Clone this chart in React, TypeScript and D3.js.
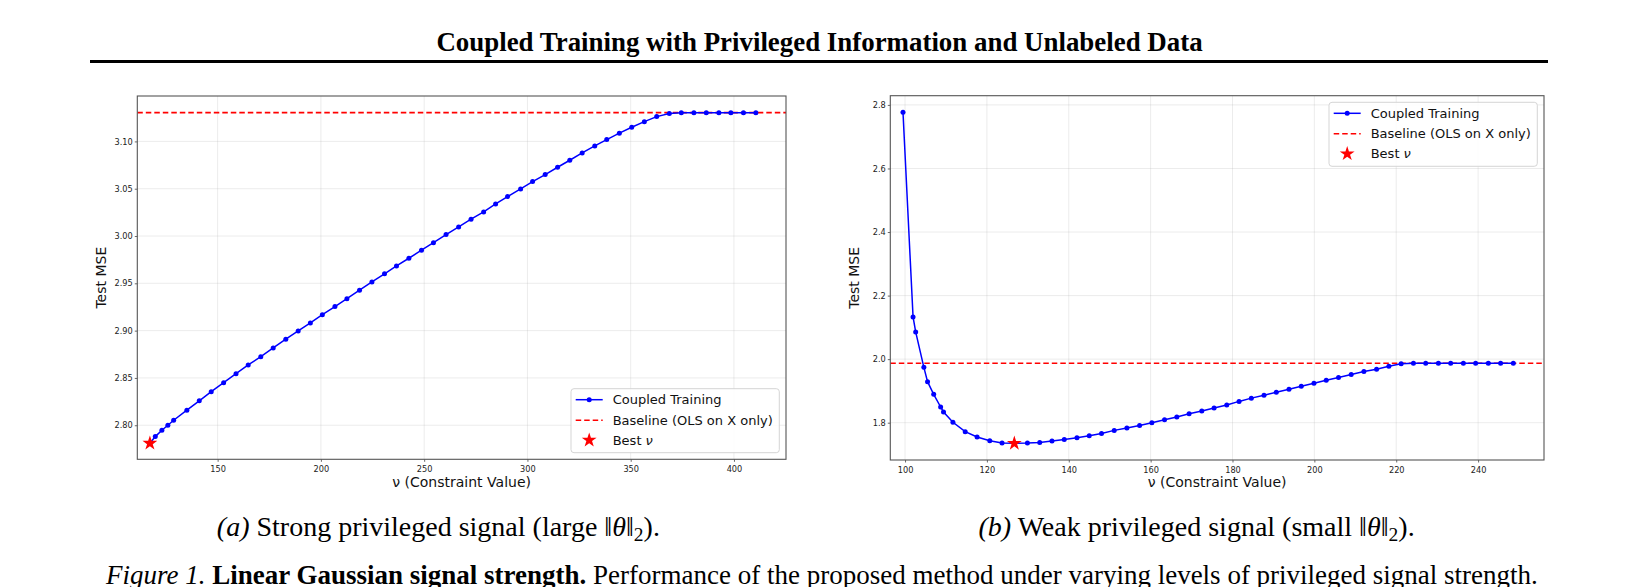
import React, { useEffect, useRef } from "react";
import * as d3 from "d3";

// Strong privileged signal (panel a)
const leftNu = [
  117.2, 119.8, 123.0, 125.9, 128.7, 135.1, 141.1, 146.9, 152.9, 158.9, 164.8, 170.9, 176.9, 183.0,
  189.0, 194.9, 200.7, 206.8, 212.6, 218.7, 224.7, 230.8, 236.6, 242.6, 248.7, 254.5, 260.6, 266.7,
  272.7, 278.8, 284.6, 290.4, 296.7, 302.5, 308.6, 314.6, 320.5, 326.5, 332.6, 338.4, 344.5, 350.5,
  356.6, 362.6, 368.7, 374.5, 380.6, 386.6, 392.7, 398.5, 404.6, 410.6,
];
const leftMse = [
  2.781, 2.788, 2.7947, 2.8, 2.8053, 2.8159, 2.8258, 2.8355, 2.845, 2.8545, 2.8637, 2.8725, 2.8817, 2.8909,
  2.8997, 2.9081, 2.9169, 2.9254, 2.9338, 2.9427, 2.9515, 2.96, 2.9684, 2.9765, 2.985, 2.993, 3.0015, 3.0096,
  3.0178, 3.0255, 3.0339, 3.0417, 3.0498, 3.0575, 3.0649, 3.0727, 3.0801, 3.0878, 3.0952, 3.1019, 3.1087, 3.115,
  3.1209, 3.1262, 3.1294, 3.1304, 3.1304, 3.1304, 3.1304, 3.1304, 3.1304, 3.1304,
];
const leftBaseline = 3.1304;
const leftBest = { nu: 117.2, mse: 2.781 };
const leftXTicks = [150, 200, 250, 300, 350, 400];
const leftYTicks = [2.8, 2.85, 2.9, 2.95, 3.0, 3.05, 3.1];

// Weak privileged signal (panel b)
const rightNu = [
  99.5, 101.96, 102.6, 104.6, 105.5, 107.0, 108.7, 109.4, 111.7, 114.7, 117.6, 120.7, 123.7, 126.7,
  129.9, 132.9, 135.9, 138.9, 142.0, 145.0, 148.0, 151.1, 154.2, 157.3, 160.3, 163.4, 166.4, 169.4,
  172.5, 175.5, 178.6, 181.6, 184.6, 187.7, 190.7, 193.8, 196.8, 199.9, 202.9, 205.9, 209.0, 212.1,
  215.2, 218.2, 221.2, 224.2, 227.2, 230.3, 233.3, 236.4, 239.4, 242.5, 245.5, 248.6,
];
const rightMse = [
  2.777, 2.1327, 2.0855, 1.9742, 1.929, 1.8894, 1.8494, 1.8337, 1.8013, 1.7717, 1.755, 1.7434, 1.7361, 1.735,
  1.7361, 1.738, 1.7422, 1.7474, 1.7527, 1.759, 1.7663, 1.7758, 1.7831, 1.7915, 1.8, 1.8094, 1.8178, 1.8283,
  1.8366, 1.8461, 1.8555, 1.867, 1.8773, 1.8866, 1.896, 1.9054, 1.9149, 1.9243, 1.9338, 1.9422, 1.9516, 1.961,
  1.9684, 1.9778, 1.9852, 1.987, 1.987, 1.987, 1.987, 1.987, 1.987, 1.987, 1.987, 1.987,
];
const rightBaseline = 1.987;
const rightBest = { nu: 126.7, mse: 1.735 };
const rightXTicks = [100, 120, 140, 160, 180, 200, 220, 240];
const rightYTicks = [1.8, 2.0, 2.2, 2.4, 2.6, 2.8];

const legendLabels = ["Coupled Training", "Baseline (OLS on X only)", "Best "];

const PLOT_FONT = "DejaVu Sans, sans-serif";
const SERIF = "Liberation Serif, Times New Roman, serif";

interface PanelProps {
  nu: number[];
  mse: number[];
  baseline: number;
  best: { nu: number; mse: number };
  xDomain: [number, number];
  yDomain: [number, number];
  xTicks: number[];
  yTicks: number[];
  yFormat: string;
  box: { x0: number; x1: number; y0: number; y1: number };
  legendPos: "lower right" | "upper right";
}

const Panel: React.FC<PanelProps> = (p) => {
  const gRef = useRef<SVGGElement | null>(null);

  useEffect(() => {
    if (!gRef.current) return;
    const g = d3.select(gRef.current);
    g.selectAll("*").remove();

    const { x0, x1, y0, y1 } = p.box;
    const x = d3.scaleLinear().domain(p.xDomain).range([x0, x1]);
    const y = d3.scaleLinear().domain(p.yDomain).range([y1, y0]);

    // background
    g.append("rect").attr("x", x0).attr("y", y0).attr("width", x1 - x0).attr("height", y1 - y0).attr("fill", "#fff");

    // grid
    const grid = g.append("g").attr("stroke", "#b0b0b0").attr("stroke-opacity", 0.3).attr("stroke-width", 0.8);
    p.xTicks.forEach((t) => {
      grid.append("line").attr("x1", x(t)).attr("x2", x(t)).attr("y1", y0).attr("y2", y1);
    });
    p.yTicks.forEach((t) => {
      grid.append("line").attr("x1", x0).attr("x2", x1).attr("y1", y(t)).attr("y2", y(t));
    });

    // axes
    const xAxis = g
      .append("g")
      .attr("transform", `translate(0, ${y1})`)
      .call(d3.axisBottom(x).tickValues(p.xTicks).tickFormat(d3.format("d")).tickSize(2.5).tickPadding(4.2));
    const yAxis = g
      .append("g")
      .attr("transform", `translate(${x0}, 0)`)
      .call(d3.axisLeft(y).tickValues(p.yTicks).tickFormat(d3.format(p.yFormat)).tickSize(2.5).tickPadding(2.1));
    [xAxis, yAxis].forEach((a) => {
      a.select(".domain").remove();
      a.attr("font-family", PLOT_FONT).attr("font-size", 8.2);
      a.selectAll("line").attr("stroke", "#444").attr("stroke-width", 0.8);
      a.selectAll("text").attr("fill", "#222");
    });

    const clipId = `clip-${Math.round(x0)}`;
    g.append("clipPath").attr("id", clipId).append("rect").attr("x", x0).attr("y", y0).attr("width", x1 - x0).attr("height", y1 - y0);
    const plot = g.append("g").attr("clip-path", `url(#${clipId})`);

    // baseline
    plot
      .append("line")
      .attr("x1", x0)
      .attr("x2", x1)
      .attr("y1", y(p.baseline))
      .attr("y2", y(p.baseline))
      .attr("stroke", "#ff0000")
      .attr("stroke-width", 1.6)
      .attr("stroke-dasharray", "5.5,3");

    // series
    const pts = p.nu.map((n, i) => [n, p.mse[i]] as [number, number]);
    const line = d3.line<[number, number]>().x((d) => x(d[0])).y((d) => y(d[1]));
    plot.append("path").attr("d", line(pts)).attr("fill", "none").attr("stroke", "#0000ff").attr("stroke-width", 1.5);
    plot
      .selectAll("circle")
      .data(pts)
      .enter()
      .append("circle")
      .attr("cx", (d) => x(d[0]))
      .attr("cy", (d) => y(d[1]))
      .attr("r", 2.5)
      .attr("fill", "#0000ff");

    const star = d3.symbol().type(d3.symbolStar).size(68);
    plot
      .append("path")
      .attr("d", star())
      .attr("transform", `translate(${x(p.best.nu)}, ${y(p.best.mse)})`)
      .attr("fill", "#ff0000");

    // spines
    g.append("rect")
      .attr("x", x0)
      .attr("y", y0)
      .attr("width", x1 - x0)
      .attr("height", y1 - y0)
      .attr("fill", "none")
      .attr("stroke", "#555")
      .attr("stroke-width", 1.1);

    // legend
    const lw = 208.3;
    const lh = 64;
    const lx = x1 - 6.7 - lw;
    const ly = p.legendPos === "lower right" ? y1 - 6.6 - lh : y0 + 6.6;
    const leg = g.append("g").attr("transform", `translate(${lx}, ${ly})`);
    leg
      .append("rect")
      .attr("width", lw)
      .attr("height", lh)
      .attr("rx", 3)
      .attr("fill", "#fff")
      .attr("fill-opacity", 0.85)
      .attr("stroke", "#d0d0d0")
      .attr("stroke-width", 0.9);
    const rows = [11, 31.5, 51.5];
    leg.append("line").attr("x1", 4.7).attr("x2", 31.7).attr("y1", rows[0]).attr("y2", rows[0]).attr("stroke", "#0000ff").attr("stroke-width", 1.5);
    leg.append("circle").attr("cx", 18.2).attr("cy", rows[0]).attr("r", 2.5).attr("fill", "#0000ff");
    leg
      .append("line")
      .attr("x1", 4.7)
      .attr("x2", 31.7)
      .attr("y1", rows[1])
      .attr("y2", rows[1])
      .attr("stroke", "#ff0000")
      .attr("stroke-width", 1.6)
      .attr("stroke-dasharray", "5.5,3");
    leg.append("path").attr("d", star()).attr("transform", `translate(18.2, ${rows[2]})`).attr("fill", "#ff0000");
    legendLabels.forEach((lab, i) => {
      const t = leg
        .append("text")
        .attr("x", 41.7)
        .attr("y", rows[i])
        .attr("dy", "0.36em")
        .attr("font-family", PLOT_FONT)
        .attr("font-size", 13)
        .attr("fill", "#111")
        .text(lab);
      if (i === 2) t.append("tspan").attr("font-style", "italic").text("ν");
    });

    // axis labels
    g.append("text")
      .attr("x", (x0 + x1) / 2)
      .attr("y", 487)
      .attr("text-anchor", "middle")
      .attr("font-family", PLOT_FONT)
      .attr("font-size", 14)
      .attr("fill", "#111")
      .text("ν (Constraint Value)");
    g.append("text")
      .attr("transform", `translate(${x0 - 31}, ${(y0 + y1) / 2}) rotate(-90)`)
      .attr("text-anchor", "middle")
      .attr("font-family", PLOT_FONT)
      .attr("font-size", 14)
      .attr("fill", "#111")
      .text("Test MSE");
  }, [p]);

  return <g ref={gRef} />;
};

const App: React.FC = () => {
  return (
    <svg
      width={1639}
      height={587}
      style={{ position: "absolute", left: 0, top: 0, background: "#fff" }}
    >
      <rect width={1639} height={587} fill="#fff" />
      <text x={819.5} y={51} textAnchor="middle" fontFamily={SERIF} fontWeight="bold" fontSize={26.9}>
        Coupled Training with Privileged Information and Unlabeled Data
      </text>
      <line x1={90} x2={1548} y1={61.5} y2={61.5} stroke="#000" strokeWidth={3} />

      <Panel
        nu={leftNu}
        mse={leftMse}
        baseline={leftBaseline}
        best={leftBest}
        xDomain={[111.1, 425.2]}
        yDomain={[2.764, 3.148]}
        xTicks={leftXTicks}
        yTicks={leftYTicks}
        yFormat=".2f"
        box={{ x0: 137.3, x1: 786, y0: 96, y1: 459.3 }}
        legendPos="lower right"
      />
      <Panel
        nu={rightNu}
        mse={rightMse}
        baseline={rightBaseline}
        best={rightBest}
        xDomain={[96.4, 256.1]}
        yDomain={[1.6826, 2.829]}
        xTicks={rightXTicks}
        yTicks={rightYTicks}
        yFormat=".1f"
        box={{ x0: 890.3, x1: 1544, y0: 95.7, y1: 460 }}
        legendPos="upper right"
      />

      <text x={438.4} y={536} textAnchor="middle" fontFamily={SERIF} fontSize={28}>
        <tspan fontStyle="italic">(a)</tspan> Strong privileged signal (large ‖<tspan fontStyle="italic">θ</tspan>‖
        <tspan dy={5} fontSize={19.5}>2</tspan>
        <tspan dy={-5}>).</tspan>
      </text>
      <text x={1196.6} y={536} textAnchor="middle" fontFamily={SERIF} fontSize={28}>
        <tspan fontStyle="italic">(b)</tspan> Weak privileged signal (small ‖<tspan fontStyle="italic">θ</tspan>‖
        <tspan dy={5} fontSize={19.5}>2</tspan>
        <tspan dy={-5}>).</tspan>
      </text>

      <text x={106} y={584} fontFamily={SERIF} fontSize={27}>
        <tspan fontStyle="italic">Figure 1.</tspan>
        <tspan fontWeight="bold"> Linear Gaussian signal strength.</tspan>
        <tspan> Performance of the proposed method under varying levels of privileged signal strength.</tspan>
      </text>
    </svg>
  );
};

export default App;
